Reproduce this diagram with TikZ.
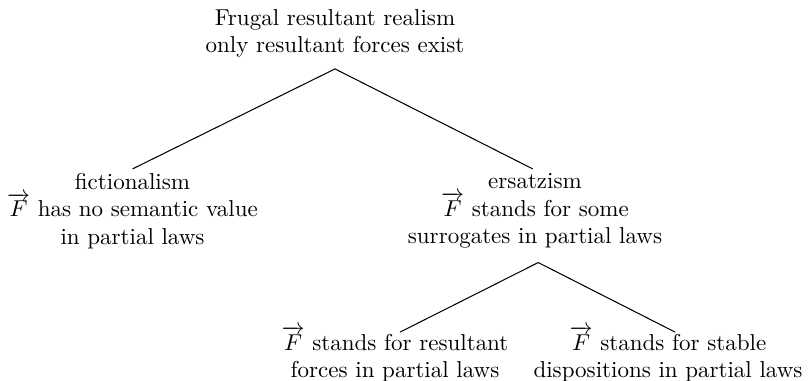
\documentclass[tikz,border=0pt]{standalone}
\usepackage{amsmath}
\begin{document}
\begin{tikzpicture}[x=0.4348pt,y=-0.4348pt,
  tnode/.style={align=center, inner sep=0pt},
  branch/.style={line width=0.45pt}]
\useasboundingbox (0,0) rectangle (812,381);
\node[tnode] (root) at (335,33.5) {Frugal resultant realism\\only resultant forces exist};
\node[tnode] (fic) at (132.5,211) {fictionalism\\$\overrightarrow{F}$ has no semantic value\\in partial laws};
\node[tnode] (ers) at (535,211) {ersatzism\\$\overrightarrow{F}$ stands for some\\surrogates in partial laws};
\node[tnode] (res) at (395,354) {$\overrightarrow{F}$ stands for resultant\\forces in partial laws};
\node[tnode] (dis) at (668,354) {$\overrightarrow{F}$ stands for stable\\dispositions in partial laws};
\draw[branch] ([yshift=-4.7pt]root.south) -- ([yshift=1.6pt]fic.north);
\draw[branch] ([yshift=-4.7pt]root.south) -- ([xshift=-1pt,yshift=1.8pt]ers.north);
\draw[branch] ([xshift=1.4pt,yshift=-5.9pt]ers.south) -- ([xshift=2.2pt,yshift=-2.9pt]res.north);
\draw[branch] ([xshift=1.4pt,yshift=-5.9pt]ers.south) -- ([xshift=3.1pt,yshift=-2.9pt]dis.north);
\end{tikzpicture}
\end{document}
